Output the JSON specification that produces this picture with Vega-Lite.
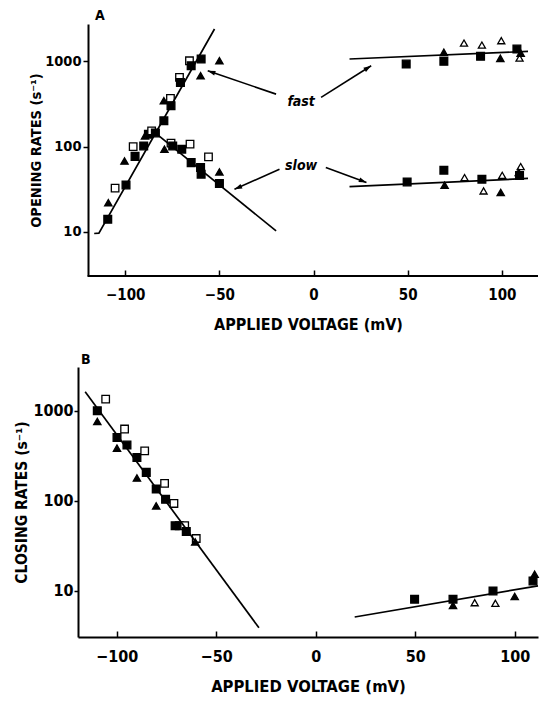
{
  "$schema": "https://vega.github.io/schema/vega-lite/v6.json",
  "background": "white",
  "padding": {"left": 14, "top": 9, "right": 0, "bottom": 0},
  "spacing": 21,
  "datasets": {
    "A_pts": [
      {"v": -109.3, "r": 14.1, "s": "fs"}, {"v": -109, "r": 22, "s": "ft"}, {"v": -105.4, "r": 32.6, "s": "os"},
      {"v": -99.6, "r": 35.6, "s": "fs"}, {"v": -100.4, "r": 68, "s": "ft"}, {"v": -94.8, "r": 77, "s": "fs"},
      {"v": -95.8, "r": 100, "s": "os"}, {"v": -90.2, "r": 102, "s": "fs"}, {"v": -89.5, "r": 134, "s": "ft"},
      {"v": -87.7, "r": 140, "s": "fs"}, {"v": -86, "r": 153, "s": "os"}, {"v": -84, "r": 145, "s": "fs"},
      {"v": -79.5, "r": 201, "s": "fs"}, {"v": -79.5, "r": 345, "s": "ft"}, {"v": -76, "r": 368, "s": "os"},
      {"v": -75.7, "r": 301, "s": "fs"}, {"v": -71.2, "r": 649, "s": "os"}, {"v": -70.7, "r": 566, "s": "fs"},
      {"v": -65.9, "r": 1016, "s": "os"}, {"v": -65, "r": 888, "s": "fs"}, {"v": -59.7, "r": 1065, "s": "fs"},
      {"v": -60, "r": 678, "s": "ft"}, {"v": -50, "r": 1016, "s": "ft"},
      {"v": -79.2, "r": 93.5, "s": "ft"}, {"v": -75.7, "r": 110, "s": "os"}, {"v": -74.8, "r": 102, "s": "fs"},
      {"v": -70, "r": 93.5, "s": "fs"}, {"v": -65.6, "r": 107, "s": "os"}, {"v": -65, "r": 65, "s": "fs"},
      {"v": -60, "r": 57, "s": "fs"}, {"v": -59.7, "r": 47.6, "s": "fs"}, {"v": -55.8, "r": 76, "s": "os"},
      {"v": -50, "r": 50.6, "s": "ft"}, {"v": -50, "r": 37, "s": "fs"},
      {"v": 49.2, "r": 929, "s": "fs"}, {"v": 69.2, "r": 1000, "s": "fs"}, {"v": 69.2, "r": 1276, "s": "ft"},
      {"v": 79.9, "r": 1640, "s": "ot"}, {"v": 89.4, "r": 1553, "s": "ot"}, {"v": 88.7, "r": 1146, "s": "fs"},
      {"v": 99.7, "r": 1746, "s": "ot"}, {"v": 99.2, "r": 1085, "s": "ft"}, {"v": 108, "r": 1393, "s": "fs"},
      {"v": 109.4, "r": 1093, "s": "ot"}, {"v": 110, "r": 1250, "s": "ft"},
      {"v": 49.7, "r": 38.6, "s": "fs"}, {"v": 69.2, "r": 53, "s": "fs"}, {"v": 69.6, "r": 35.3, "s": "ft"},
      {"v": 80.2, "r": 43.5, "s": "ot"}, {"v": 89.4, "r": 41.6, "s": "fs"}, {"v": 90.3, "r": 30.3, "s": "ot"},
      {"v": 99.4, "r": 29, "s": "ft"}, {"v": 100.2, "r": 46.2, "s": "ot"}, {"v": 109.4, "r": 46, "s": "fs"},
      {"v": 110, "r": 58.5, "s": "ot"}, {"v": 109, "r": 50, "s": "ft"}
    ],
    "B_pts": [
      {"v": -109.7, "r": 1000, "s": "fs"}, {"v": -109.7, "r": 762, "s": "ft"}, {"v": -105.5, "r": 1349, "s": "os"},
      {"v": -99.8, "r": 506, "s": "fs"}, {"v": -99.8, "r": 385, "s": "ft"}, {"v": -96, "r": 627, "s": "os"},
      {"v": -94.8, "r": 416, "s": "fs"}, {"v": -89.8, "r": 303, "s": "fs"}, {"v": -85.9, "r": 359, "s": "os"},
      {"v": -89.8, "r": 179, "s": "ft"}, {"v": -85.1, "r": 207, "s": "fs"}, {"v": -80.1, "r": 135, "s": "fs"},
      {"v": -75.9, "r": 156, "s": "os"}, {"v": -80.1, "r": 88, "s": "ft"}, {"v": -75.4, "r": 104, "s": "fs"},
      {"v": -71.2, "r": 93.5, "s": "os"}, {"v": -70.6, "r": 53, "s": "fs"}, {"v": -68.5, "r": 53, "s": "fs"},
      {"v": -65.8, "r": 53, "s": "os"}, {"v": -65, "r": 45.7, "s": "fs"}, {"v": -60, "r": 38.2, "s": "os"},
      {"v": -60.5, "r": 35, "s": "ft"},
      {"v": 49.7, "r": 8.1, "s": "fs"}, {"v": 69, "r": 8.1, "s": "fs"}, {"v": 69, "r": 6.9, "s": "ft"},
      {"v": 79.9, "r": 7.4, "s": "ot"}, {"v": 89.1, "r": 10, "s": "fs"}, {"v": 90.3, "r": 7.3, "s": "ot"},
      {"v": 100, "r": 8.7, "s": "ft"}, {"v": 109.2, "r": 12.9, "s": "fs"}, {"v": 110, "r": 15.3, "s": "ft"}
    ],
    "A_lines": [
      {"seg": "fL", "v": -116.5, "r": 9.6}, {"seg": "fL", "v": -114, "r": 9.7}, {"seg": "fL", "v": -52.6, "r": 2395},
      {"seg": "sL", "v": -85.4, "r": 153}, {"seg": "sL", "v": -19.9, "r": 10.3},
      {"seg": "fR", "v": 19.1, "r": 1065}, {"seg": "fR", "v": 113.9, "r": 1309},
      {"seg": "sR", "v": 19.1, "r": 34.1}, {"seg": "sR", "v": 113.9, "r": 42.4}
    ],
    "B_lines": [
      {"seg": "L", "v": -115.8, "r": 1626}, {"seg": "L", "v": -28.5, "r": 3.9},
      {"seg": "R", "v": 19.6, "r": 5.14}, {"seg": "R", "v": 111.7, "r": 11.4}
    ],
    "A_arrows": [
      {"id": "fL", "v": -19.9, "r": 413, "v2": -56.2, "r2": 776},
      {"id": "fR", "v": 4.0, "r": 378, "v2": 30.6, "r2": 887},
      {"id": "sL", "v": -18.1, "r": 54.4, "v2": -42, "r2": 31.7},
      {"id": "sR", "v": 6.5, "r": 57, "v2": 28.1, "r2": 38}
    ],
    "A_text": [
      {"t": "fast", "v": -6.6, "r": 330},
      {"t": "slow", "v": -6.6, "r": 59.6}
    ],
    "A_base": [{"v": -120, "v2": 119.2, "r": 3.05}]
  },
  "config": {
    "view": {"stroke": null},
    "axis": {
      "domainColor": "black", "domainWidth": 2, "tickColor": "black", "tickWidth": 1.5,
      "labelColor": "black", "titleColor": "black",
      "labelFont": "Liberation Sans Narrow, DejaVu Sans Condensed, Liberation Sans, sans-serif",
      "titleFont": "Liberation Sans Narrow, DejaVu Sans Condensed, Liberation Sans, sans-serif",
      "labelFontWeight": "bold", "titleFontWeight": "bold",
      "grid": false, "labelFontSize": 15, "titleFontSize": 15
    },
    "title": {"font": "Liberation Sans Narrow, DejaVu Sans Condensed, Liberation Sans, sans-serif", "fontWeight": "bold", "color": "black"}
  },
  "vconcat": [
    {
      "width": 460, "height": 252,
      "title": {"text": "A", "anchor": "start", "frame": "group", "dx": 17, "fontSize": 14, "offset": 1},
      "layer": [
        {
          "data": {"name": "A_pts"},
          "mark": {"type": "point", "filled": true, "stroke": "black", "strokeWidth": 1.3, "opacity": 1},
          "encoding": {
            "x": {"field": "v", "type": "quantitative",
              "scale": {"domain": [-125.1, 119.2], "nice": false, "zero": false},
              "axis": {"values": [-100, -50, 0, 50, 100], "domain": false, "tickSize": -6, "labelPadding": 17,
                "title": "APPLIED VOLTAGE (mV)", "titlePadding": 14, "labelFontSize": 15, "titleFontSize": 16}},
            "y": {"field": "r", "type": "quantitative",
              "scale": {"type": "log", "domain": [3.05, 2740], "nice": false},
              "axis": {"values": [10, 100, 1000], "format": "d", "offset": -10, "tickSize": 5, "labelPadding": 2,
                "title": "OPENING RATES (s⁻¹)", "titlePadding": 1, "labelFontSize": 14.5, "titleFontSize": 14.5}},
            "shape": {"field": "s", "type": "nominal", "legend": null,
              "scale": {"domain": ["fs", "os", "ft", "ot"], "range": ["square", "square", "triangle-up", "triangle-up"]}},
            "fill": {"field": "s", "type": "nominal", "legend": null,
              "scale": {"domain": ["fs", "os", "ft", "ot"], "range": ["black", "white", "black", "white"]}},
            "size": {"field": "s", "type": "nominal", "legend": null,
              "scale": {"domain": ["fs", "os", "ft", "ot"], "range": [60, 50, 75, 70]}}
          }
        },
        {
          "data": {"name": "A_lines"},
          "mark": {"type": "line", "color": "black", "strokeWidth": 1.7},
          "encoding": {
            "x": {"field": "v", "type": "quantitative"},
            "y": {"field": "r", "type": "quantitative"},
            "detail": {"field": "seg"}
          }
        },
        {
          "data": {"name": "A_base"},
          "mark": {"type": "rule", "color": "black", "strokeWidth": 2},
          "encoding": {
            "x": {"field": "v", "type": "quantitative"},
            "x2": {"field": "v2"},
            "y": {"field": "r", "type": "quantitative"}
          }
        },
        {
          "data": {"name": "A_arrows"},
          "mark": {"type": "rule", "color": "black", "strokeWidth": 1.6},
          "encoding": {
            "x": {"field": "v", "type": "quantitative"},
            "y": {"field": "r", "type": "quantitative"},
            "x2": {"field": "v2"},
            "y2": {"field": "r2"}
          }
        },
        {
          "data": {"name": "A_arrows"},
          "transform": [{"filter": "datum.id == 'fL'"}],
          "mark": {"type": "point", "shape": "M0,0L-0.45,1.4L0.45,1.4Z", "filled": true, "color": "black", "opacity": 1, "size": 120, "angle": 289},
          "encoding": {
            "x": {"field": "v2", "type": "quantitative"},
            "y": {"field": "r2", "type": "quantitative"}
          }
        },
        {
          "data": {"name": "A_arrows"},
          "transform": [{"filter": "datum.id == 'fR'"}],
          "mark": {"type": "point", "shape": "M0,0L-0.45,1.4L0.45,1.4Z", "filled": true, "color": "black", "opacity": 1, "size": 120, "angle": 58},
          "encoding": {
            "x": {"field": "v2", "type": "quantitative"},
            "y": {"field": "r2", "type": "quantitative"}
          }
        },
        {
          "data": {"name": "A_arrows"},
          "transform": [{"filter": "datum.id == 'sL'"}],
          "mark": {"type": "point", "shape": "M0,0L-0.45,1.4L0.45,1.4Z", "filled": true, "color": "black", "opacity": 1, "size": 120, "angle": 246},
          "encoding": {
            "x": {"field": "v2", "type": "quantitative"},
            "y": {"field": "r2", "type": "quantitative"}
          }
        },
        {
          "data": {"name": "A_arrows"},
          "transform": [{"filter": "datum.id == 'sR'"}],
          "mark": {"type": "point", "shape": "M0,0L-0.45,1.4L0.45,1.4Z", "filled": true, "color": "black", "opacity": 1, "size": 120, "angle": 111},
          "encoding": {
            "x": {"field": "v2", "type": "quantitative"},
            "y": {"field": "r2", "type": "quantitative"}
          }
        },
        {
          "data": {"name": "A_text"},
          "mark": {"type": "text", "font": "Liberation Sans Narrow, DejaVu Sans Condensed, Liberation Sans, sans-serif", "fontStyle": "italic", "fontWeight": "bold", "fontSize": 14, "color": "black", "align": "center", "baseline": "middle"},
          "encoding": {
            "x": {"field": "v", "type": "quantitative"},
            "y": {"field": "r", "type": "quantitative"},
            "text": {"field": "t"}
          }
        }
      ]
    },
    {
      "width": 460, "height": 270,
      "title": {"text": "B", "anchor": "start", "frame": "group", "dx": 3, "fontSize": 14, "offset": 0},
      "layer": [
        {
          "data": {"name": "B_pts"},
          "mark": {"type": "point", "filled": true, "stroke": "black", "strokeWidth": 1.3, "opacity": 1},
          "encoding": {
            "x": {"field": "v", "type": "quantitative",
              "scale": {"domain": [-119.4, 111.7], "nice": false, "zero": false},
              "axis": {"values": [-100, -50, 0, 50, 100], "tickSize": -6, "labelPadding": 17,
                "title": "APPLIED VOLTAGE (mV)", "titlePadding": 14, "labelFontSize": 16, "titleFontSize": 16.5}},
            "y": {"field": "r", "type": "quantitative",
              "scale": {"type": "log", "domain": [3.08, 3060], "nice": false},
              "axis": {"values": [10, 100, 1000], "format": "d", "tickSize": 4, "labelPadding": 1,
                "title": "CLOSING RATES (s⁻¹)", "titlePadding": 3, "labelFontSize": 16, "titleFontSize": 15.5}},
            "shape": {"field": "s", "type": "nominal", "legend": null,
              "scale": {"domain": ["fs", "os", "ft", "ot"], "range": ["square", "square", "triangle-up", "triangle-up"]}},
            "fill": {"field": "s", "type": "nominal", "legend": null,
              "scale": {"domain": ["fs", "os", "ft", "ot"], "range": ["black", "white", "black", "white"]}},
            "size": {"field": "s", "type": "nominal", "legend": null,
              "scale": {"domain": ["fs", "os", "ft", "ot"], "range": [64, 55, 80, 75]}}
          }
        },
        {
          "data": {"name": "B_lines"},
          "mark": {"type": "line", "color": "black", "strokeWidth": 1.7},
          "encoding": {
            "x": {"field": "v", "type": "quantitative"},
            "y": {"field": "r", "type": "quantitative"},
            "detail": {"field": "seg"}
          }
        }
      ]
    }
  ]
}
